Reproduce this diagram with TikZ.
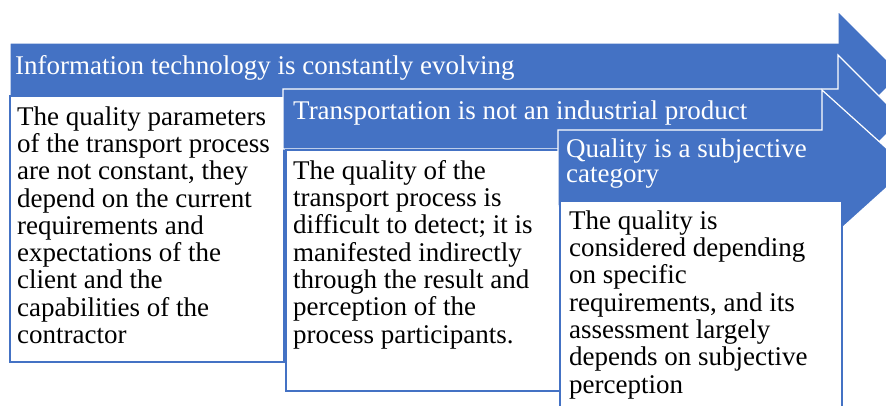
\documentclass[tikz,border=0pt]{standalone}
\usepackage{fontspec}
\setmainfont{Liberation Serif}
\definecolor{stageblue}{HTML}{4472C4}

\begin{document}
\begin{tikzpicture}[x=1pt,y=-1pt,
  band/.style={fill=stageblue,draw=white,line width=1.2pt},
  card/.style={fill=white,draw=stageblue,line width=1.5pt},
  head text/.style={text=white,anchor=base west,inner sep=0pt,align=left,
    font=\fontsize{27}{25}\selectfont},
  body text/.style={anchor=base west,inner sep=0pt,align=left,
    font=\fontsize{27}{27.3}\selectfont}]

  \useasboundingbox (0,0) rectangle (886,405);
  \clip (0,0) rectangle (886,405);

  % first stage (text nodes sit on the baseline of their last line)
  \path[band] (10,43) -- (838,43) -- (838,11) -- (901,74) -- (838,137)
    -- (838,105) -- (10,105) -- cycle;
  \node[head text] (h1) at (15,74) {Information technology is constantly evolving};
  \path[card] (10,96) rectangle (284,362);
  \node[body text] (t1) at (17,343.5) {The quality parameters\\of the transport process\\
    are not constant, they\\depend on the current\\requirements and\\
    expectations of the\\client and the\\capabilities of the\\contractor};

  % second stage
  \path[band] (283,89) -- (838,89) -- (838,55) -- (902,119) -- (838,183)
    -- (838,149) -- (283,149) -- cycle;
  \node[head text] (h2) at (293,119) {Transportation is not an industrial product};
  \path[card] (286,150) rectangle (560,391);
  \node[body text] (t2) at (293,343) {The quality of the\\transport process is\\
    difficult to detect; it is\\manifested indirectly\\through the result and\\
    perception of the\\process participants.};

  % third stage
  \path[band] (558,130) -- (822,130) -- (822,90) -- (908.5,168) -- (822,246)
    -- (822,206) -- (558,206) -- cycle;
  \node[head text] (h3) at (566,182) {Quality is a subjective\\category};
  \path[card] (560,201) rectangle (842,412);
  \node[body text] (t3) at (569,393) {The quality is\\considered depending\\
    on specific\\requirements, and its\\assessment largely\\
    depends on subjective\\perception};
\end{tikzpicture}
\end{document}
